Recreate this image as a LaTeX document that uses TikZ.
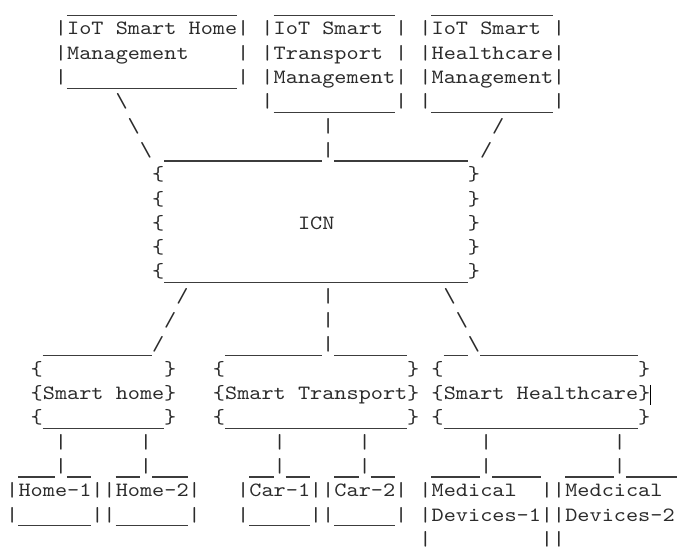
\documentclass[tikz,border=0pt]{standalone}
\usepackage{fontspec}
\newfontfamily\asciifont[FakeStretch=1.142857]{lmmono10-regular.otf}
\definecolor{ink}{HTML}{2B2B2B}
\definecolor{rulegray}{HTML}{3C3C3C}

\begin{document}
\begin{tikzpicture}[x=12.15pt, y=-24.3pt,
    glyph/.style={inner sep=0pt, anchor=base, text=ink,
                  font=\asciifont\fontsize{20.25}{24}\selectfont},
    word/.style={glyph, anchor=base west},
    uline/.style={draw=rulegray, line width=1.4pt},
    cursor/.style={draw=black, line width=1pt}]
  % --- 画布：每列 12.15pt，每行 24.3pt（列中心、基线） ---
  \path[use as bounding box, clip] (-1.0123,-0.4403) rectangle (54.708,22.029);

  % --- 文字 ---
  \foreach \c/\r/\t/\n in {5/1/IoT Smart Home/hm1, 5/2/Management/hm2,
      22/1/IoT Smart/tr1, 22/2/Transport/tr2, 22/3/Management/tr3,
      35/1/IoT Smart/hc1, 35/2/Healthcare/hc2, 35/3/Management/hc3,
      24/9/ICN/icn,
      3/16/Smart home/shome, 18/16/Smart Transport/strans,
      36/16/Smart Healthcare/shealth,
      1/20/Home-1/home1, 9/20/Home-2/home2, 20/20/Car-1/car1, 27/20/Car-2/car2,
      35/20/Medical/med1, 35/21/Devices-1/dev1,
      46/20/Medcical/med2, 46/21/Devices-2/dev2}
    \node[word] (\n) at (\c-0.5,\r) {\t};

  % --- 竖线 | （每行的列号） ---
  \foreach \r/\cs in {1/{4,19,21,32,34,45}, 2/{4,19,21,32,34,45},
                      3/{4,19,21,32,34,45}, 4/{21,32,34,45},
                      5/{26}, 6/{26}, 12/{26}, 13/{26}, 14/{26},
                      18/{4,11,22,29,39,50}, 19/{4,11,22,29,39,50},
                      20/{0,7,8,15,19,25,26,32,34,44,45},
                      21/{0,7,8,15,19,25,26,32,34,44,45}, 22/{34,44,45}}
    \foreach \c in \cs
      \node[glyph] (bar-\c-\r) at (\c,\r) {|};

  % --- 斜线 \ 与 / ---
  \foreach \c/\r in {9/4, 10/5, 11/6, 36/12, 37/13, 38/14}
    \node[glyph] (bs-\c-\r) at (\c,\r) {\textbackslash};
  \foreach \c/\r in {40/5, 39/6, 14/12, 13/13, 12/14}
    \node[glyph] (sl-\c-\r) at (\c,\r) {/};

  % --- 花括号 { } ---
  \foreach \r in {7,...,11} {
    \node[glyph] (lb-12-\r) at (12,\r) {\{};
    \node[glyph] (rb-38-\r) at (38,\r) {\}};
  }
  \foreach \r in {15,16,17}
    \foreach \l/\rr in {2/13, 17/33, 35/52} {
      \node[glyph] (lb-\l-\r) at (\l,\r) {\{};
      \node[glyph] (rb-\rr-\r) at (\rr,\r) {\}};
    }

  % --- 下划线：行/起列/止列 ---
  \foreach \r/\a/\b in {0/5/18, 0/22/31, 0/35/44, 3/5/18, 4/22/31, 4/35/44,
      6/13/25, 6/27/37, 11/13/37,
      14/3/11, 14/18/25, 14/27/32, 14/36/37, 14/39/51,
      17/3/12, 17/18/32, 17/36/51,
      19/1/3, 19/5/6, 19/9/10, 19/12/14, 19/20/21, 19/23/24, 19/27/28,
      19/30/31, 19/35/38, 19/40/43, 19/46/49, 19/51/55,
      21/1/6, 21/9/14, 21/20/24, 21/27/31}
    \draw[uline] (\a-0.5,\r+0.19) -- (\b+0.5,\r+0.19);

  % --- 光标 ---
  \draw[cursor] (52.54,15.40) -- (52.54,16.23);
\end{tikzpicture}
\end{document}
